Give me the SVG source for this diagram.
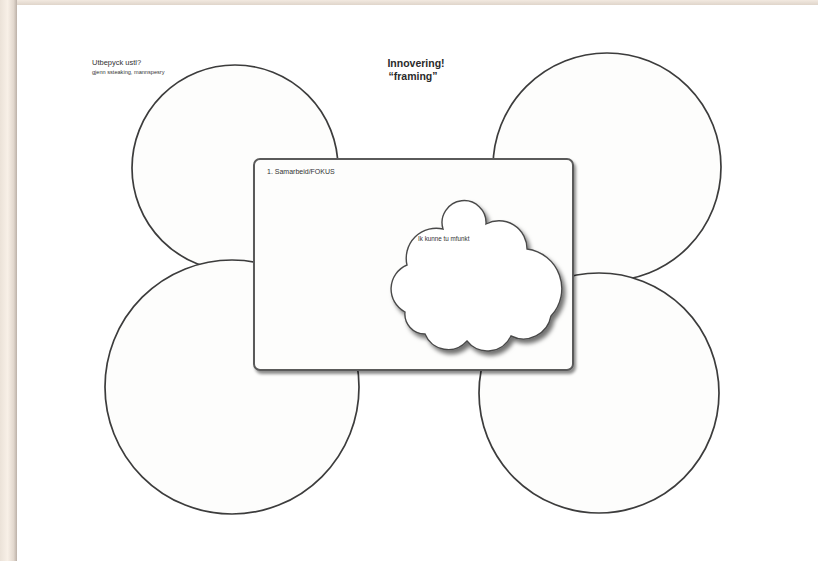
<svg xmlns="http://www.w3.org/2000/svg" width="818" height="561" viewBox="0 0 818 561">
  <defs>
    <linearGradient id="leftEdge" x1="0" y1="0" x2="1" y2="0">
      <stop offset="0" stop-color="#ebe2d8"/>
      <stop offset="0.45" stop-color="#f8f0e7"/>
      <stop offset="0.8" stop-color="#e2d8ce"/>
      <stop offset="1" stop-color="#bcb1a8"/>
    </linearGradient>
    <linearGradient id="topEdge" x1="0" y1="0" x2="0" y2="1">
      <stop offset="0" stop-color="#f2e9e0"/>
      <stop offset="1" stop-color="#dcd1c6"/>
    </linearGradient>
    <filter id="shadow" x="-10%" y="-10%" width="125%" height="125%">
      <feDropShadow dx="3" dy="4" stdDeviation="2" flood-color="#000" flood-opacity="0.55"/>
    </filter>
    <filter id="rshadow" x="-5%" y="-5%" width="115%" height="115%">
      <feDropShadow dx="2" dy="3" stdDeviation="1.5" flood-color="#000" flood-opacity="0.45"/>
    </filter>
    <style>
      .circ { fill: #fdfdfc; stroke: #3c3c3c; stroke-width: 1.7; }
      .frame { fill: #fdfdfc; stroke: #5a5a5a; stroke-width: 2; }
      .cloud { fill: #ffffff; stroke: #4a4a4a; stroke-width: 1.4; }
      .t { font-family: "Liberation Sans", Arial, sans-serif; fill: #333; }
      .title { font-family: "Liberation Sans", Arial, sans-serif; fill: #2a2a2a; font-weight: bold; font-size: 10.5px; text-anchor: middle; }
    </style>
  </defs>

  <!-- background / page -->
  <rect x="0" y="0" width="818" height="561" fill="#f3ebe2"/>
  <rect x="0" y="0" width="818" height="6" fill="url(#topEdge)"/>
  <rect x="0" y="0" width="17" height="561" fill="url(#leftEdge)"/>
  <rect x="17" y="5" width="801" height="556" fill="#ffffff"/>

  <g id="circle-top-left">
    <circle class="circ" cx="235" cy="168" r="103"/>
  </g>
  <g id="circle-top-right">
    <circle class="circ" cx="607" cy="167" r="114"/>
  </g>
  <g id="circle-bottom-left">
    <circle class="circ" cx="232" cy="387" r="127"/>
  </g>
  <g id="circle-bottom-right">
    <circle class="circ" cx="599" cy="393" r="120"/>
  </g>

  <g id="connectors"></g>

  <g id="center-frame">
    <rect class="frame" x="254" y="159" width="319" height="211" rx="6" ry="6" filter="url(#rshadow)"/>
    <text class="t" x="267" y="174" font-size="7">1. Samarbeid/FOKUS</text>
  </g>

  <g id="cloud">
    <path class="cloud" filter="url(#shadow)" d="M 407,265 A 30 30 0 0 1 443,229 A 22 22 0 1 1 486,224 A 28 28 0 0 1 527,249 A 40 40 0 0 1 551,316 A 28 28 0 0 1 511,336 A 26 26 0 0 1 467,341 A 25 25 0 0 1 425,334 A 20 20 0 0 1 405,312 A 26 26 0 0 1 407,265 Z"/>
    <text class="t" x="418" y="241" font-size="6.3">Ik kunne tu mfunkt</text>
  </g>

  <g id="title">
    <text class="title" x="416" y="67">Innovering!</text>
    <text class="title" x="413" y="80">“framing”</text>
  </g>

  <g id="note-top-left">
    <text class="t" x="92" y="65" font-size="7.5">Utbepyck ustl?</text>
    <text class="t" x="92" y="74" font-size="5.6">gjenn ssteaking, mannspesry</text>
  </g>
</svg>
